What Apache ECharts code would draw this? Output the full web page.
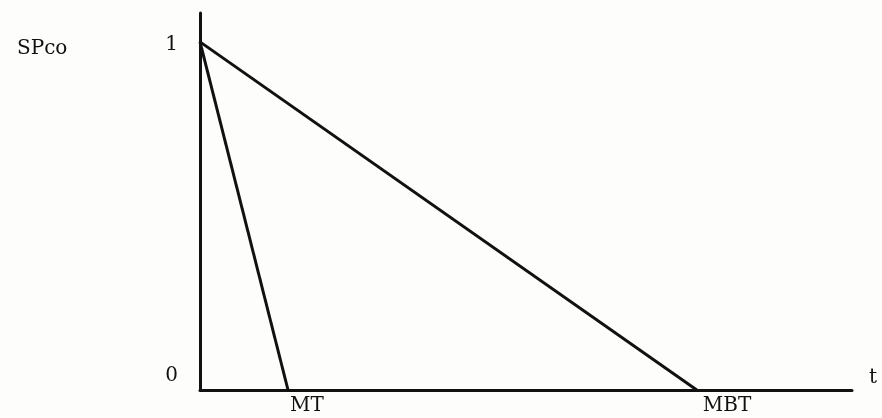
<!DOCTYPE html>
<html>
<head>
<meta charset="utf-8">
<script src="https://cdn.jsdelivr.net/npm/echarts@6/dist/echarts.min.js"></script>
<style>
  html, body { margin: 0; padding: 0; background: #fdfdfc; }
  #chart { width: 882px; height: 418px; }
</style>
</head>
<body>
<div id="chart"></div>
<script>
// chart data
const peakValue = 1;
const endNames = ['MT', 'MBT'];
const endTimes = [1.35, 7.62];   // where each line hits zero
const yTicks = [0, 1];

const ink = '#111';
const font = 'DejaVu Serif';
const txt = { fontFamily: font, fontSize: 20, color: ink };

const chart = echarts.init(document.getElementById('chart'));

const series = endTimes.map((t, i) => ({
    name: endNames[i],
    type: 'line',
    data: [[0, peakValue], [t, 0]],
    symbol: 'none',
    lineStyle: { color: ink, width: 3 },
    silent: true
}));

chart.setOption({
    backgroundColor: '#fdfdfc',
    animation: false,
    title: {
        text: 'SPco',
        left: 12,
        top: 34,
        textStyle: Object.assign({ fontWeight: 'normal' }, txt)
    },
    grid: { left: 200, right: 30, top: 13, bottom: 28 },
    xAxis: {
        type: 'value',
        min: 0,
        max: 10,
        name: 't',
        nameLocation: 'end',
        nameGap: 17,
        nameTextStyle: Object.assign({ verticalAlign: 'bottom', padding: [0, 0, 2, 0] }, txt),
        axisLine: { lineStyle: { color: ink, width: 3 } },
        axisTick: { show: false },
        splitLine: { show: false },
        axisLabel: {
            customValues: endTimes,
            formatter: v => v === endTimes[0] ? '{a|MT}' : '{b|MBT}',
            align: 'left',
            margin: 6,
            rich: {
                a: Object.assign({ padding: [0, 0, 0, 2] }, txt),
                b: Object.assign({ padding: [0, 0, 0, 6] }, txt)
            }
        }
    },
    yAxis: {
        type: 'value',
        min: 0,
        max: 1.083,
        axisLine: { show: true, lineStyle: { color: ink, width: 3 } },
        axisTick: { show: false },
        splitLine: { show: false },
        axisLabel: {
            customValues: yTicks,
            margin: 22,
            formatter: v => v === 0 ? '{z|0}' : '{o|' + v + '}',
            rich: {
                z: Object.assign({ padding: [0, 0, 28, 0] }, txt),
                o: Object.assign({ padding: [6, 0, 0, 0] }, txt)
            }
        }
    },
    series: series
});

window.addEventListener('resize', () => chart.resize());
</script>
</body>
</html>
